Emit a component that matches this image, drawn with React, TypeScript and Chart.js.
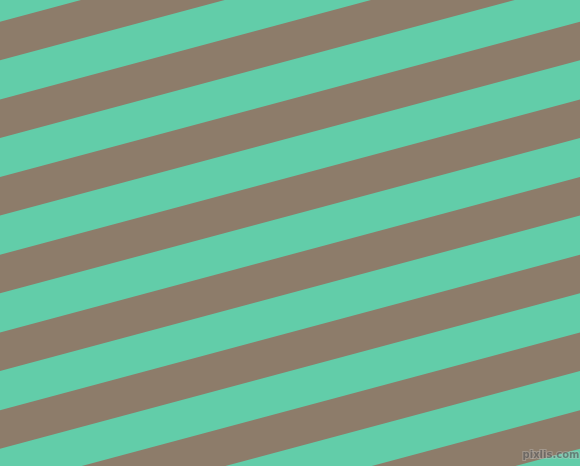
import { Chart, registerables, ChartConfiguration, Plugin } from "chart.js";
import { useEffect, useRef } from "react";

Chart.register(...registerables);

// x positions of the two ends of every stripe edge
const edgeX = [0, 580];

// brown stripes: y of the upper edge at the left / right border
const topLeft = [21.7, 99.4, 177.1, 254.8, 332.5, 410.2, 487.9, 565.6];
const topRight = [-133.7, -56, 21.7, 99.4, 177.1, 254.8, 332.5, 410.2];
// brown stripes: y of the lower edge at the left / right border
const bottomLeft = [60.2, 137.9, 215.6, 293.3, 371, 448.7, 526.4, 604.1];
const bottomRight = [-95.2, -17.5, 60.2, 137.9, 215.6, 293.3, 371, 448.7];

const green = "#62CDA9";
const brown = "#8D7C6A";

// paints the green ground and the little watermark
const backdrop: Plugin = {
    id: "backdrop",
    beforeDraw(chart) {
        const ctx = chart.ctx;
        ctx.save();
        ctx.fillStyle = green;
        ctx.fillRect(0, 0, chart.width, chart.height);
        ctx.restore();
    },
    afterDraw(chart) {
        const ctx = chart.ctx;
        ctx.save();
        ctx.font = "bold 10px 'DejaVu Sans'";
        ctx.textAlign = "center";
        ctx.textBaseline = "middle";
        ctx.lineWidth = 2;
        ctx.strokeStyle = "rgba(200,200,200,0.35)";
        ctx.strokeText("pixlis.com", 551, 455);
        ctx.fillStyle = "rgba(70,70,70,0.55)";
        ctx.fillText("pixlis.com", 551, 455);
        ctx.restore();
    },
};

export default function App() {
    const chartRef = useRef<HTMLCanvasElement | null>(null);
    useEffect(() => {
        document.body.style.margin = "0";
        const context = chartRef.current?.getContext("2d");
        if (!context) return;

        const datasets: any[] = [];
        topLeft.forEach((_, i) => {
            datasets.push({
                data: [
                    { x: edgeX[0], y: topLeft[i] },
                    { x: edgeX[1], y: topRight[i] },
                ],
                borderWidth: 0,
                borderColor: brown,
                backgroundColor: brown,
                pointRadius: 0,
                fill: "+1",
            });
            datasets.push({
                data: [
                    { x: edgeX[0], y: bottomLeft[i] },
                    { x: edgeX[1], y: bottomRight[i] },
                ],
                borderWidth: 0,
                borderColor: brown,
                pointRadius: 0,
                fill: false,
            });
        });

        const config = {
            type: "line",
            data: { datasets },
            options: {
                animation: false,
                responsive: true,
                maintainAspectRatio: false,
                layout: { padding: 0 },
                scales: {
                    x: { type: "linear", min: 0, max: 580, display: false },
                    y: { type: "linear", min: 0, max: 466, reverse: true, display: false },
                },
                plugins: {
                    legend: { display: false },
                    tooltip: { enabled: false },
                },
            },
            plugins: [backdrop],
        };

        const chartInstance = new Chart(context, config as ChartConfiguration);
        return () => {
            chartInstance.destroy();
        };
    }, []);
    return (
        <div style={{ position: "relative", width: 580, height: 466 }}>
            <canvas ref={chartRef} />
        </div>
    );
}
